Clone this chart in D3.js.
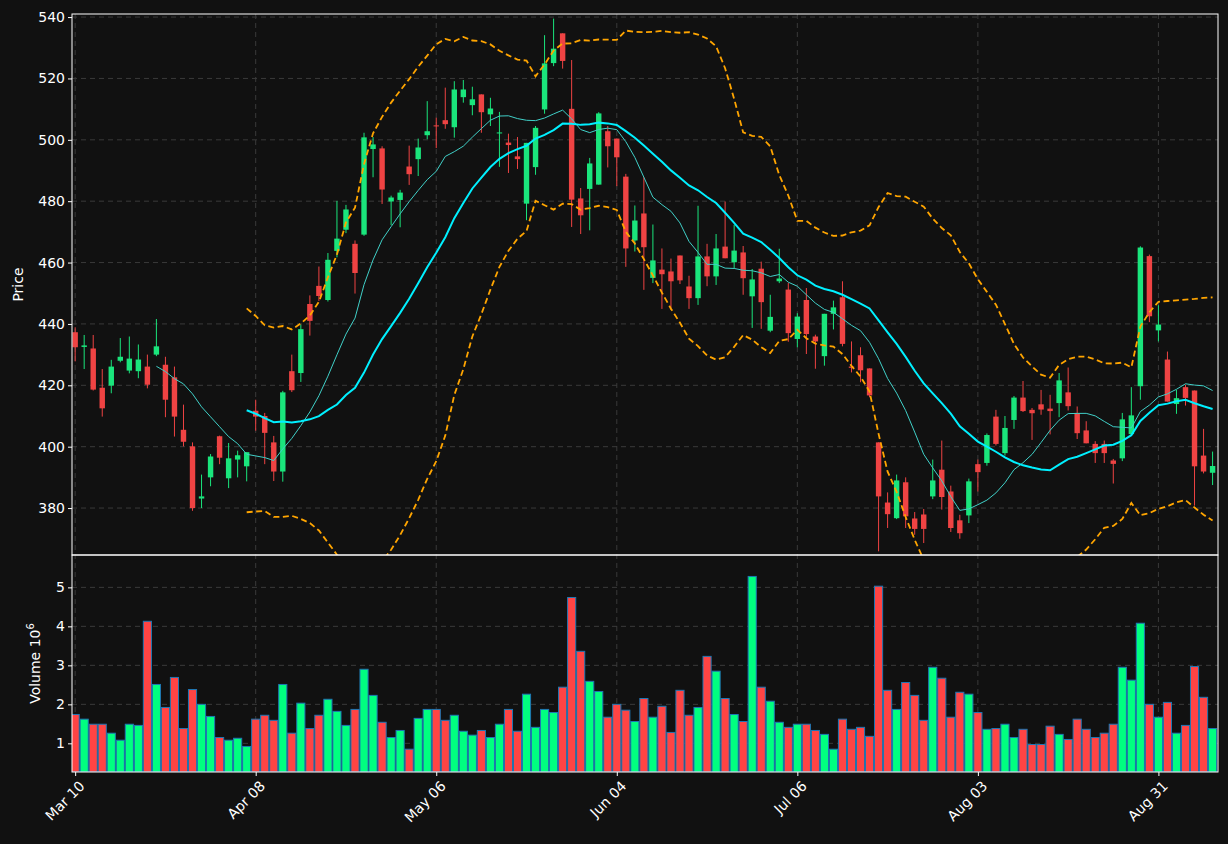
<!DOCTYPE html>
<html>
<head>
<meta charset="utf-8">
<script src="https://cdn.jsdelivr.net/npm/d3@7"></script>
<style>
  body { margin: 0; background: #111111; }
  text { font-family: "DejaVu Sans", sans-serif; }
</style>
</head>
<body>
<svg id="chart" width="1228" height="844"></svg>
<script>
// OHLC, one entry per trading day
const opens = [437.3,432.5,432,419.2,419.9,428,424.8,424.6,426.1,430,426.7,422.6,405.5,400.1,383.1,390,403.4,389.7,395.8,393.6,
  411.7,410,401.4,391.9,424.6,424,446.5,452.4,447.8,463.8,470.7,466.1,469.1,497,497.2,479.9,480.4,491.3,493.7,501.5,
  504.7,506.4,504.1,513.9,511.3,514.8,508.3,502.2,499.1,494.6,479.2,491.1,509.9,525,534.7,510.1,480.9,484,485.4,502.8,
  500.4,488,467.2,476,455,457.7,457.1,462.3,452.2,448.4,462,455.5,465.2,460.1,463.3,449,458,437.8,453.9,451.2,
  435.1,447.8,435.9,429.5,443.3,448.7,426.1,429.8,425.5,401.4,381.8,376.7,388.4,376.6,377.9,383.8,392.5,385.4,376,377.6,
  394.3,394.7,409.8,397.9,408.7,416,412,413.8,412.4,414.2,417.7,411,405.3,400.9,400.9,395.5,396.2,404.1,419.7,462.1,
  437.9,428.4,413.9,419.4,418.3,397.1,391.5];
const highs = [438.9,436.4,436.4,425.3,428.3,435.4,435.9,433.3,430,441.6,429.3,426.1,413.7,401.4,390.9,397.6,403.6,401.2,398.7,398.2,
  415.3,411,403.5,418.2,430,439.8,449.3,458.7,463.1,480.1,478.8,467.2,502.3,500.9,497.9,481.8,483.7,498.1,500.4,512.6,
  507.2,517,519.1,519.5,517.3,514.8,513.7,509.1,502,500.9,499,504.5,534.1,539.5,534.7,526,484.3,494.1,509,504.5,
  500.4,488.9,478.6,487.8,472.4,464.6,461.3,462.3,455.7,478.5,466.1,469.3,479.9,472.3,465.4,457.9,460.3,449.5,464.5,453.4,
  443.5,451.7,436.5,443.3,447.6,453.9,434.3,432.4,425.5,401.4,385.1,390.9,390,378.7,379.7,395.8,402,387.3,377.8,389.6,
  395.8,404.3,412,410,416.5,421.4,412.6,418.5,416.9,424,425.8,413.1,408.3,401.8,402,396,411,419.4,465.3,462.6,
  446.1,431,418.5,420.2,418.3,405.8,398.4];
const lows = [427.8,425.3,418.3,409.8,417.4,427.5,423.9,422.3,419,429.5,409.6,403.3,400.1,379.1,380,387.1,394.3,386.5,390,388.7,
  405.2,394.3,388.8,388.6,417.8,421.1,436.2,447.5,447.3,461.7,469.6,449.9,468.7,487.8,479.1,472.2,471.5,485.3,488.2,500.2,
  497.3,503.6,500.7,512.1,508,502.3,504.5,491.2,489.2,490.5,473.8,488.6,508.5,524,523.2,471.6,469.3,470.5,485.4,491,
  484.9,458.6,463.6,451.1,453.3,444.9,444.6,453,444.9,446.2,452.3,452.7,461.4,458.2,449.5,438.7,438.4,437.3,453.3,434.2,
  432.4,430.2,425.4,426.4,438.2,432.7,424.2,421,416.1,365.9,373.5,376.4,373.5,371.3,368.6,382.9,379.5,372.2,370,375.1,
  385.4,393.8,400.4,397.1,405.8,411.3,402.2,410.4,404,409.6,411.8,402.5,401.1,394.7,394.7,388,395.3,403.8,415.3,440.6,
  434.3,414.7,410.7,413.4,380.8,391.3,387.5];
const closes = [432.4,433,418.6,412.5,426.1,429.3,428.7,428.4,420.2,432.7,415.3,409.8,401.6,380,383.8,396.8,396.4,396.2,397.2,398.2,
  409.8,404.5,391.9,417.7,418.4,438.3,441,449.1,460.9,467.8,477.3,456.6,500.8,498.5,483.8,481.2,482.8,488.8,497.5,502.8,
  504.5,505.1,516.4,516.4,513.2,509,510.2,502.4,498.3,493.7,499,503.9,524.9,529.7,525.7,480.5,475.4,492.3,508.6,497.9,
  494.3,464.6,473.7,465,460.7,456.2,453.9,454.2,448.4,462,455.5,464.6,461.4,463.9,454.9,454.5,447.1,442.3,454.8,437,
  442.4,436.7,434.3,443.3,445.4,433.5,425.7,424.9,416.7,383.8,378,389,377.3,373.2,373.2,389,383.6,373.5,371.8,388.7,
  391.7,403.8,400.9,406.1,416,411.6,410.9,412.1,411.6,421.6,413.2,404.4,401.1,397.9,397.9,394.4,408.9,410.2,464.9,442.5,
  439.8,414.7,415.8,415.9,393.6,391.9,393.7];
// volume in millions
const volumes = [1.74,1.62,1.49,1.49,1.26,1.08,1.49,1.46,4.13,2.51,1.92,2.69,1.38,2.38,2.0,1.69,1.15,1.08,1.13,0.92,
  1.62,1.72,1.59,2.51,1.26,2.03,1.38,1.72,2.13,1.82,1.46,1.87,2.9,2.23,1.54,1.15,1.33,0.85,1.64,1.87,
  1.87,1.59,1.72,1.31,1.21,1.33,1.15,1.49,1.87,1.31,2.26,1.41,1.87,1.79,2.44,4.74,3.36,2.59,2.33,1.67,
  2.0,1.85,1.56,2.15,1.67,1.95,1.28,2.36,1.72,1.92,3.23,2.85,2.15,1.74,1.56,5.28,2.44,2.08,1.54,1.41,
  1.49,1.49,1.33,1.23,0.85,1.62,1.36,1.41,1.18,5.03,2.36,1.87,2.56,2.23,1.59,2.95,2.67,1.67,2.31,2.26,
  1.79,1.36,1.38,1.49,1.15,1.36,0.97,0.97,1.44,1.23,1.1,1.62,1.36,1.15,1.26,1.49,2.95,2.62,4.08,2.0,
  1.67,2.05,1.26,1.46,2.97,2.18,1.38];
const tickIdx = [0, 20, 40, 60, 80, 100, 120];
const tickLabels = ["Mar 10", "Apr 08", "May 06", "Jun 04", "Jul 06", "Aug 03", "Aug 31"];
const priceTicks = [380, 400, 420, 440, 460, 480, 500, 520, 540];
const volTicks = [1, 2, 3, 4, 5];

const data = opens.map((o, i) => ({ i, o, h: highs[i], l: lows[i], c: closes[i], v: volumes[i] }));

// rolling mean / bands from the closes
function rolling(n, fn) {
  return data.map((d, i) => i < n - 1 ? null : fn(closes.slice(i - n + 1, i + 1)));
}
const ma10 = rolling(10, a => d3.mean(a));
const ma20 = rolling(20, a => d3.mean(a));
const sd20 = rolling(20, a => Math.sqrt(d3.mean(a, v => (v - d3.mean(a)) ** 2)));
const upper = ma20.map((m, i) => m === null ? null : m + 2 * sd20[i]);
const lower = ma20.map((m, i) => m === null ? null : m - 2 * sd20[i]);

const left = 72, right = 1218;
const pTop = 14, pBot = 555, vBot = 772;

const svg = d3.select("#chart");
svg.append("rect").attr("width", 1228).attr("height", 844).attr("fill", "#111111");

const x = d3.scaleLinear().domain([-0.35, 126.6]).range([left, right]);
const y = d3.scaleLinear().domain([364.7, 541]).range([pBot, pTop]);
const yv = d3.scaleLinear().domain([0.265, 5.83]).range([vBot, pBot]);
const step = x(1) - x(0);

const green = "#1ae57c", red = "#ef4343";

// clip paths
const defs = svg.append("defs");
defs.append("clipPath").attr("id", "pclip").append("rect")
  .attr("x", left).attr("y", pTop).attr("width", right - left).attr("height", pBot - pTop);
defs.append("clipPath").attr("id", "vclip").append("rect")
  .attr("x", left).attr("y", pBot).attr("width", right - left).attr("height", vBot - pBot);

// grids
const grid = svg.append("g").attr("stroke", "#3a3a3a").attr("stroke-dasharray", "5,4").attr("stroke-width", 1);
tickIdx.forEach(t => {
  grid.append("line").attr("x1", x(t)).attr("x2", x(t)).attr("y1", pTop).attr("y2", vBot);
});
priceTicks.forEach(t => grid.append("line").attr("x1", left).attr("x2", right).attr("y1", y(t)).attr("y2", y(t)));
volTicks.forEach(t => grid.append("line").attr("x1", left).attr("x2", right).attr("y1", yv(t)).attr("y2", yv(t)));

// candles
const pg = svg.append("g").attr("clip-path", "url(#pclip)");
pg.selectAll("line.wick").data(data).join("line")
  .attr("x1", d => x(d.i)).attr("x2", d => x(d.i))
  .attr("y1", d => y(d.h)).attr("y2", d => y(d.l))
  .attr("stroke", d => d.c >= d.o ? green : red).attr("stroke-width", 1);
pg.selectAll("rect.body").data(data).join("rect")
  .attr("x", d => x(d.i) - step * 0.3).attr("width", step * 0.6)
  .attr("y", d => y(Math.max(d.o, d.c)))
  .attr("height", d => Math.max(1, Math.abs(y(d.o) - y(d.c))))
  .attr("fill", d => d.c >= d.o ? green : red);

// lines
function addLine(vals, color, width, dash) {
  const line = d3.line().defined(v => v !== null).x((v, i) => x(i)).y(v => y(v));
  pg.append("path").datum(vals).attr("d", line)
    .attr("fill", "none").attr("stroke", color).attr("stroke-width", width)
    .attr("stroke-dasharray", dash || null);
}
addLine(ma10, "#40d0c8", 1);
addLine(ma20, "#00f0ff", 2);
addLine(upper, "#ffa500", 1.8, "6,3.5");
addLine(lower, "#ffa500", 1.8, "6,3.5");

// volume bars
const vg = svg.append("g").attr("clip-path", "url(#vclip)");
vg.selectAll("rect").data(data).join("rect")
  .attr("x", d => x(d.i) - step * 0.45).attr("width", step * 0.9)
  .attr("y", d => yv(d.v)).attr("height", d => vBot - yv(d.v))
  .attr("fill", d => d.c >= d.o ? "#00ff80" : "#ff4444")
  .attr("stroke", "#1f77b4").attr("stroke-width", 1);

// frames
svg.append("rect").attr("x", left).attr("y", pTop).attr("width", right - left).attr("height", pBot - pTop)
  .attr("fill", "none").attr("stroke", "#ffffff");
svg.append("rect").attr("x", left).attr("y", pBot).attr("width", right - left).attr("height", vBot - pBot)
  .attr("fill", "none").attr("stroke", "#ffffff");

// axes
const axP = svg.append("g").attr("transform", `translate(${left},0)`)
  .call(d3.axisLeft(y).tickValues(priceTicks).tickSize(4).tickFormat(d3.format("d")));
const axV = svg.append("g").attr("transform", `translate(${left},0)`)
  .call(d3.axisLeft(yv).tickValues(volTicks).tickSize(4).tickFormat(d3.format("d")));
const axX = svg.append("g").attr("transform", `translate(0,${vBot})`)
  .call(d3.axisBottom(x).tickValues(tickIdx).tickSize(4).tickFormat((d, i) => tickLabels[i]));
[axP, axV, axX].forEach(a => {
  a.select(".domain").remove();
  a.selectAll("line").attr("stroke", "#ffffff");
  a.selectAll("text").attr("fill", "#ffffff").style("font-size", "14px");
});
axX.selectAll("text")
  .attr("text-anchor", "end").attr("dx", 0).attr("dy", 0)
  .attr("transform", "translate(5,10) rotate(-45)");

// axis titles
svg.append("text").attr("transform", `translate(23,${(pTop + pBot) / 2}) rotate(-90)`)
  .attr("text-anchor", "middle").attr("fill", "#ffffff").style("font-size", "14px").text("Price");
const vt = svg.append("text").attr("transform", `translate(40,${(pBot + vBot) / 2}) rotate(-90)`)
  .attr("text-anchor", "middle").attr("fill", "#ffffff").style("font-size", "14px");
vt.append("tspan").text("Volume  10");
vt.append("tspan").attr("dy", -6).style("font-size", "10px").text("6");
</script>
</body>
</html>
